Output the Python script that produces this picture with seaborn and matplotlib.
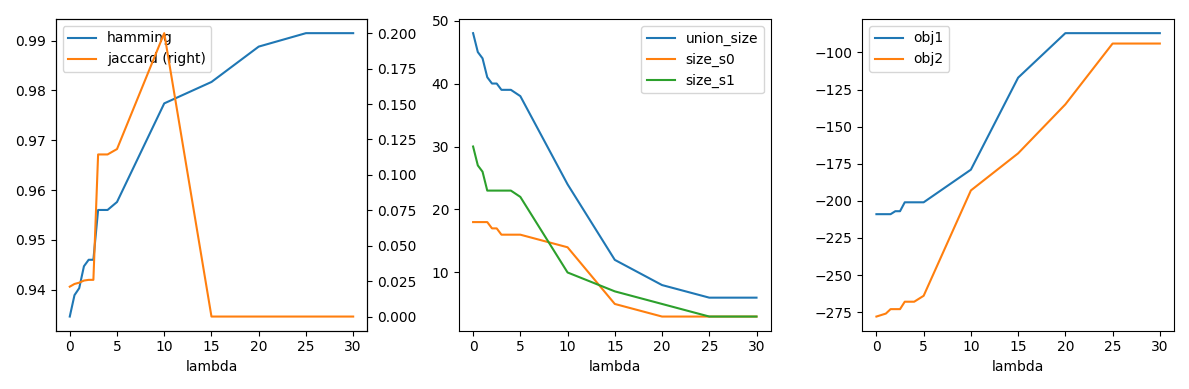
import pandas as pd
import matplotlib.pyplot as plt
import seaborn as sns

# lambda grid
lam = [0, 0.5, 1, 1.5, 2, 2.5, 3, 4, 5, 10, 15, 20, 25, 30]

# panel 1
hamming = [0.9346, 0.9389, 0.9403, 0.9447, 0.946, 0.946, 0.956, 0.956, 0.9576,
           0.9774, 0.9817, 0.9888, 0.9915, 0.9915]
jaccard = [0.0211, 0.023, 0.0239, 0.0254, 0.0259, 0.0259, 0.1144, 0.1144, 0.1182,
           0.2, 0.0, 0.0, 0.0, 0.0]

# panel 2
union_size = [48, 45, 44, 41, 40, 40, 39, 39, 38, 24, 12, 8, 6, 6]
size_s0 = [18, 18, 18, 18, 17, 17, 16, 16, 16, 14, 5, 3, 3, 3]
size_s1 = [30, 27, 26, 23, 23, 23, 23, 23, 22, 10, 7, 5, 3, 3]

# panel 3
obj1 = [-209, -209, -209, -209, -207, -207, -201, -201, -201, -179, -117, -87, -87, -87]
obj2 = [-278, -277, -276, -273, -273, -273, -268, -268, -264, -193, -168, -135, -94, -94]

df = pd.DataFrame({"lambda": lam, "hamming": hamming, "jaccard": jaccard,
                   "union_size": union_size, "size_s0": size_s0, "size_s1": size_s1,
                   "obj1": obj1, "obj2": obj2})

blue, orange, green = sns.color_palette("tab10")[:3]

fig, axes = plt.subplots(1, 3, figsize=(11.89, 3.89), dpi=100)

#1
ax = axes[0]
sns.lineplot(data=df, x="lambda", y="hamming", color=blue, ax=ax, label="hamming", legend=False)
ax2 = ax.twinx()
sns.lineplot(data=df, x="lambda", y="jaccard", color=orange, ax=ax2, label="jaccard (right)", legend=False)
ax.set_ylabel("")
ax2.set_ylabel("")
h1, l1 = ax.get_legend_handles_labels()
h2, l2 = ax2.get_legend_handles_labels()
# legend sits on the primary axis, so the right-axis line crosses it
ax.legend(h1 + h2, l1 + l2, loc="upper left")

#2
ax = axes[1]
for col, c in [("union_size", blue), ("size_s0", orange), ("size_s1", green)]:
    sns.lineplot(data=df, x="lambda", y=col, color=c, ax=ax, label=col)
ax.set_ylabel("")
ax.legend(loc="upper right")

#3
ax = axes[2]
for col, c in [("obj1", blue), ("obj2", orange)]:
    sns.lineplot(data=df, x="lambda", y=col, color=c, ax=ax, label=col)
ax.set_ylabel("")
ax.legend(loc="upper left")

plt.tight_layout()
plt.savefig("out.png")
